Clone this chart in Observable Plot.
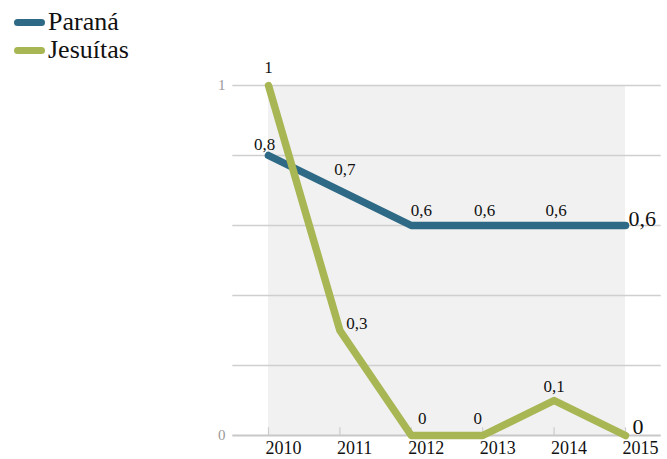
<!DOCTYPE html>
<html>
<head>
<meta charset="utf-8">
<script src="https://cdn.jsdelivr.net/npm/d3@7"></script>
<script src="https://cdn.jsdelivr.net/npm/@observablehq/plot@0.6"></script>
<style>
  html, body { margin: 0; padding: 0; background: #fff; }
  #wrap { position: relative; width: 667px; height: 459px; overflow: hidden; }
  #legend { position: absolute; left: 14px; top: 8px; font-family: "Liberation Serif", serif; font-size: 26px; color: #111; }
  .item { display: flex; align-items: center; height: 28px; }
  .sw { width: 31px; height: 7px; border-radius: 4px; margin-right: 3px; }
</style>
</head>
<body>
<div id="wrap"><div id="legend"></div></div>
<script>
const years = [2010, 2011, 2012, 2013, 2014, 2015];
const parana = [0.8, 0.7, 0.6, 0.6, 0.6, 0.6];
const jesuitas = [1, 0.3, 0, 0, 0.1, 0];
const seriesNames = ["Paraná", "Jesuítas"];
const seriesColors = ["#2e6a85", "#a8b654"];
const yTicks = [0, 0.2, 0.4, 0.6, 0.8, 1];
const yTickLabels = [0, 1];

// label offsets (pixels), layout only
const paranaOffsets = [[-4, -11], [5, -21], [10, -15], [2, -15], [2, -15], [3, -7]];
const jesuitasOffsets = [[0, -18], [17, -7], [11, -17], [-5, -17], [0, -14], [7, -9]];

const fmt = v => String(v).replace(".", ",");

const rowsP = years.map((x, i) => ({x, y: parana[i], s: seriesNames[0]}));
const rowsJ = years.map((x, i) => ({x, y: jesuitas[i], s: seriesNames[1]}));

function labelMarks(rows, offsets) {
  return rows.map((d, i) => {
    const last = i === rows.length - 1;
    return Plot.text([d], {
      x: "x", y: "y", text: r => fmt(r.y),
      dx: offsets[i][0], dy: offsets[i][1],
      textAnchor: last ? "start" : "middle",
      fontSize: last ? 22 : 17,
      fill: "#111"
    });
  });
}

const chart = Plot.plot({
  width: 667,
  height: 459,
  marginLeft: 268,
  marginRight: 42,
  marginTop: 85,
  marginBottom: 24,
  style: {fontFamily: "Liberation Serif, serif", background: "transparent", overflow: "visible"},
  x: {domain: [2010, 2015], axis: null, label: null},
  y: {domain: [0, 1], axis: null, label: null},
  marks: [
    Plot.rect([{}], {x1: 2010, x2: 2015, y1: 0, y2: 1, fill: "#f1f1f1"}),
    Plot.ruleY(yTicks.filter(t => t > 0), {x1: 2009.5, x2: 2015.5, stroke: "#cfcfcf", strokeWidth: 1.5}),
    Plot.ruleY([0], {x1: 2009.5, x2: 2015.5, stroke: "#c8c8c8", strokeWidth: 2}),
    Plot.ruleX(years, {x: d => d, y1: 0, y2: 0.022, stroke: "#cccccc", strokeWidth: 1.2}),
    Plot.axisX({ticks: years, tickFormat: d => String(d), tickSize: 0, tickPadding: 6, label: null,
      textAnchor: "start", dx: -3, fontSize: 18, fill: "#111", style: {letterSpacing: "1px"}}),
    Plot.axisY({ticks: yTickLabels, tickFormat: d => String(d), tickSize: 0, tickPadding: 43, label: null,
      fontSize: 15, fill: "#999"}),
    Plot.line(rowsP, {x: "x", y: "y", stroke: seriesColors[0], strokeWidth: 7.5, strokeLinecap: "round", strokeLinejoin: "round"}),
    Plot.line(rowsJ, {x: "x", y: "y", stroke: seriesColors[1], strokeWidth: 7.5, strokeLinecap: "round", strokeLinejoin: "round"}),
    ...labelMarks(rowsP, paranaOffsets),
    ...labelMarks(rowsJ, jesuitasOffsets)
  ]
});

const wrap = document.getElementById("wrap");
wrap.insertBefore(chart, wrap.firstChild);

const legend = document.getElementById("legend");
seriesNames.forEach((n, i) => {
  const it = document.createElement("div");
  it.className = "item";
  const sw = document.createElement("span");
  sw.className = "sw";
  sw.style.background = seriesColors[i];
  const t = document.createElement("span");
  t.textContent = n;
  it.appendChild(sw); it.appendChild(t);
  legend.appendChild(it);
});
</script>
</body>
</html>
